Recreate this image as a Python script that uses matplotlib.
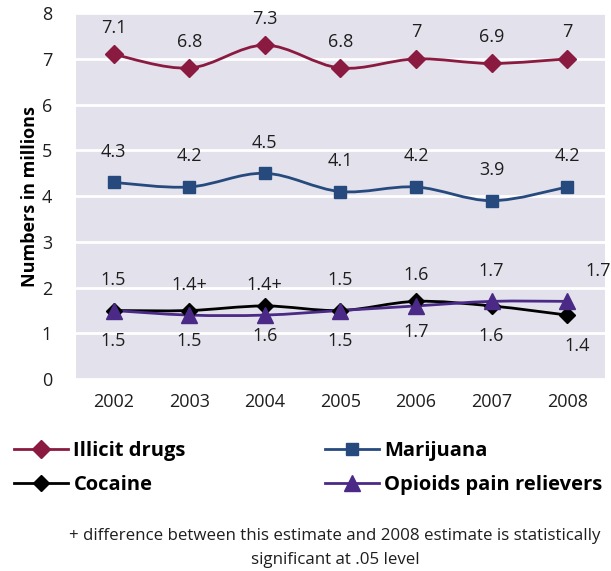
import numpy as np
import matplotlib.pyplot as plt
from matplotlib.path import Path
from matplotlib.patches import PathPatch
from matplotlib.lines import Line2D

years = ['2002', '2003', '2004', '2005', '2006', '2007', '2008']
illicit = [7.1, 6.8, 7.3, 6.8, 7.0, 6.9, 7.0]
marijuana = [4.3, 4.2, 4.5, 4.1, 4.2, 3.9, 4.2]
cocaine = [1.5, 1.5, 1.6, 1.5, 1.7, 1.6, 1.4]
opioids = [1.5, 1.4, 1.4, 1.5, 1.6, 1.7, 1.7]
illicit_lbl = ['7.1', '6.8', '7.3', '6.8', '7', '6.9', '7']
marijuana_lbl = ['4.3', '4.2', '4.5', '4.1', '4.2', '3.9', '4.2']
cocaine_lbl = ['1.5', '1.5', '1.6', '1.5', '1.7', '1.6', '1.4']
opioids_lbl = ['1.5', '1.4+', '1.4+', '1.5', '1.6', '1.7', '1.7']

plt.rcParams['font.family'] = ['Open Sans', 'DejaVu Sans']
txt = '#1e1e1e'

fig = plt.figure(figsize=(6.11, 5.71), dpi=100)
ax = fig.add_axes([0.124, 0.336, 0.866, 0.641])
ax.set_facecolor('#e3e2ec')


def smooth_line(ax, xs, ys, color):
    # catmull-rom style bezier through the points, like excel's smoothed line
    p = np.column_stack([xs, ys]).astype(float)
    n = len(p)
    verts = [p[0]]
    codes = [Path.MOVETO]
    for i in range(n - 1):
        p0 = p[i - 1] if i > 0 else p[i]
        p3 = p[i + 2] if i + 2 < n else p[i + 1]
        c1 = p[i] + (p[i + 1] - p0) / 6
        c2 = p[i + 1] - (p3 - p[i]) / 6
        verts += [c1, c2, p[i + 1]]
        codes += [Path.CURVE4] * 3
    ax.add_patch(PathPatch(Path(verts, codes), fc='none', ec=color, lw=2, zorder=3))


x = np.arange(len(years))
series = [
    ('Illicit drugs', illicit, '#8a1a40', 'D', 9),
    ('Marijuana', marijuana, '#264a7e', 's', 9),
    ('Cocaine', cocaine, 'black', 'D', 8),
    ('Opioids pain relievers', opioids, '#4a2a86', '^', 11),
]
handles = {}
for name, vals, col, mk, ms in series:
    smooth_line(ax, x, vals, col)
    ax.plot(x, vals, ls='none', marker=mk, ms=ms, color=col, zorder=4)
    handles[name] = Line2D([], [], color=col, lw=2, marker=mk, ms=ms, label=name)

lbl_kw = dict(ha='center', va='center', fontsize=13, color=txt, textcoords='offset points')
for i in range(len(years)):
    ax.annotate(illicit_lbl[i], (x[i], illicit[i]), xytext=(0, 19), **lbl_kw)
    ax.annotate(marijuana_lbl[i], (x[i], marijuana[i]), xytext=(0, 22), **lbl_kw)
    dx = 14 if i == len(years) - 1 else 0
    ax.annotate(opioids_lbl[i], (x[i], opioids[i]), xytext=(dx * 1.6, 22), **lbl_kw)
    ax.annotate(cocaine_lbl[i], (x[i], cocaine[i]), xytext=(dx * 0.5, -22), **lbl_kw)

ax.set_xlim(-0.5, 6.5)
ax.set_ylim(0, 8)
ax.set_yticks(range(0, 9))
ax.set_xticks(x)
ax.set_xticklabels(years)
ax.tick_params(length=0, labelsize=13, colors=txt, pad=10)
ax.tick_params(axis='y', pad=17)
ax.grid(axis='y', color='white', lw=2)
ax.set_axisbelow(True)
for s in ax.spines.values():
    s.set_visible(False)
ax.set_ylabel('Numbers in millions', fontsize=13, fontweight='bold', labelpad=2)

order = ['Illicit drugs', 'Cocaine', 'Marijuana', 'Opioids pain relievers']
fig.legend(handles=[handles[k] for k in order], loc='upper left', bbox_to_anchor=(0.023, 0.228), ncol=2,
           frameon=False, borderpad=0, borderaxespad=0, handlelength=2.7, handletextpad=0.25,
           columnspacing=6.9, labelspacing=0.72, prop={'weight': 'bold', 'size': 14.5})

fig.text(0.548, 0.061, '+ difference between this estimate and 2008 estimate is statistically',
         ha='center', va='center', fontsize=12.2, color=txt)
fig.text(0.548, 0.019, 'significant at .05 level', ha='center', va='center', fontsize=12.2, color=txt)

fig.savefig('out.png', dpi=100)
